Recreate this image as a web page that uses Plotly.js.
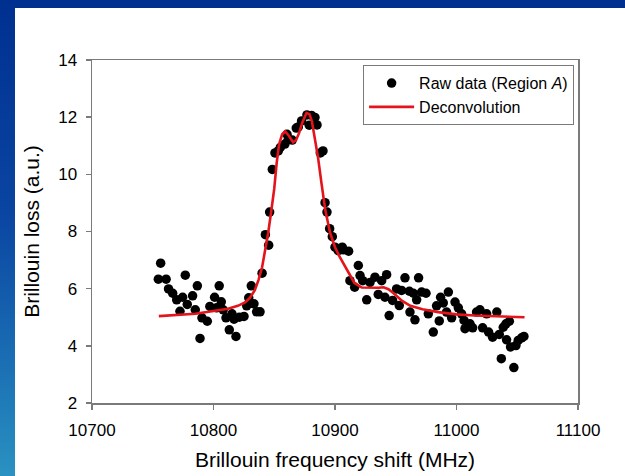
<!DOCTYPE html>
<html>
<head>
<meta charset="utf-8">
<script src="https://cdn.plot.ly/plotly-3.0.1.min.js"></script>
<style>
  html, body { margin: 0; padding: 0; width: 625px; height: 476px; overflow: hidden; background: #00308f; }
  #strip { position: absolute; left: 0; top: 0; width: 15px; height: 476px;
           background: linear-gradient(to bottom, #00308f 0%, #0a45a2 45%, #1d74b6 80%, #2a92c2 100%); }
  #chart { position: absolute; left: 15px; top: 8px; width: 610px; height: 468px; background: #fff; }
</style>
</head>
<body>
<div id="strip"></div>
<div id="chart"></div>
<script>
// Raw data (Region A): Brillouin frequency shift (MHz) and loss (a.u.)
const rawFreq = [
  10754.6, 10756.5, 10761.0, 10763.0, 10766.4, 10769.7, 10772.4, 10774.6, 10776.8, 10778.4,
  10782.8, 10785.0, 10786.7, 10788.9, 10790.5, 10794.9, 10797.0, 10800.9, 10802.6, 10804.7,
  10806.4, 10808.0, 10810.3, 10813.0, 10815.2, 10816.9, 10818.5, 10821.2, 10825.1, 10827.3,
  10829.0, 10831.1, 10833.3, 10835.5, 10838.3, 10840.0, 10842.7, 10845.4, 10846.2, 10848.4,
  10850.6, 10853.3, 10855.0, 10858.8, 10860.5, 10861.6, 10864.8, 10868.1, 10869.8, 10872.5,
  10876.9, 10878.8, 10880.7, 10883.5, 10885.2, 10887.9, 10890.1, 10891.8, 10893.4, 10895.6,
  10897.8, 10900.0, 10902.7, 10903.8, 10906.0, 10906.8, 10911.2, 10912.3, 10916.2, 10919.2,
  10920.6, 10922.8, 10926.1, 10928.8, 10932.9, 10935.6, 10938.4, 10941.1, 10942.5, 10944.6,
  10947.4, 10950.7, 10952.9, 10954.8, 10957.6, 10961.2, 10961.7, 10964.5, 10965.8, 10967.2,
  10968.8, 10971.3, 10974.9, 10976.8, 10980.9, 10983.6, 10985.8, 10986.9, 10989.1, 10991.8,
  10993.3, 10996.0, 10998.8, 11001.5, 11004.2, 11006.2, 11007.0, 11011.1, 11013.3, 11016.5,
  11019.3, 11021.5, 11024.8, 11026.4, 11029.7, 11033.2, 11035.2, 11036.9, 11038.5, 11040.7,
  11041.2, 11043.5, 11044.5, 11047.2, 11048.9, 11050.8, 11053.6, 11055.5
];
const rawLoss = [
  6.33, 6.89, 6.33, 5.99, 5.84, 5.61, 5.21, 5.70, 6.47, 5.45,
  5.75, 5.26, 6.10, 4.26, 4.98, 4.86, 5.38, 5.70, 5.33, 6.10,
  5.54, 5.26, 4.98, 4.56, 5.12, 4.93, 4.33, 5.00, 5.03, 5.40,
  5.68, 6.10, 5.47, 5.19, 5.19, 6.54, 7.89, 7.52, 8.68, 10.17,
  10.75, 10.82, 10.94, 11.06, 11.40, 11.23, 11.20, 11.62, 11.66, 11.87,
  12.08, 11.72, 12.06, 11.99, 11.73, 10.75, 10.82, 9.01, 8.68, 8.10,
  7.82, 7.45, 7.33, 7.38, 7.45, 7.36, 7.31, 6.28, 6.05, 6.81,
  6.46, 6.28, 5.61, 6.22, 6.40, 5.80, 6.28, 5.70, 6.49, 5.06,
  5.59, 5.99, 5.41, 5.94, 6.38, 5.91, 5.18, 5.84, 4.91, 5.61,
  6.38, 5.88, 5.84, 5.12, 4.48, 5.40, 4.87, 5.70, 5.50, 5.18,
  5.88, 4.98, 5.53, 5.33, 5.12, 4.89, 4.60, 4.77, 4.63, 5.18,
  5.26, 4.63, 5.12, 4.48, 4.30, 5.18, 4.40, 3.55, 4.65, 4.77,
  4.21, 4.86, 3.96, 3.24, 4.01, 4.19, 4.28, 4.33
];
// Deconvolution curve
const fitFreq = [
  10755, 10770, 10785, 10800, 10812, 10820, 10826, 10830, 10834, 10837,
  10840, 10842.5, 10845, 10847.5, 10850, 10852, 10854, 10856.5, 10859, 10862,
  10865.5, 10868, 10870.5, 10873, 10876.5, 10879, 10881, 10883, 10886, 10889,
  10892, 10896, 10900, 10904, 10910, 10916, 10922, 10930, 10936, 10940,
  10944, 10948, 10955, 10962, 10972, 10985, 11000, 11015, 11030, 11056
];
const fitLoss = [
  5.04, 5.07, 5.12, 5.22, 5.30, 5.40, 5.52, 5.68, 5.95, 6.30,
  6.75, 7.35, 7.95, 8.70, 9.50, 10.40, 11.05, 11.40, 11.50, 11.35,
  11.12, 11.20, 11.45, 11.80, 12.15, 12.10, 11.85, 11.35, 10.60, 9.65,
  8.75, 7.95, 7.45, 7.10, 6.65, 6.20, 6.04, 6.02, 6.03, 6.05,
  5.98, 5.85, 5.58, 5.40, 5.28, 5.18, 5.10, 5.06, 5.03, 5.00
];
const xTicks = [10700, 10800, 10900, 11000, 11100];
const yTicks = [2, 4, 6, 8, 10, 12, 14];

const axisColor = '#7a7a7a';
const traces = [
  {
    x: rawFreq, y: rawLoss, type: 'scatter', mode: 'markers',
    name: 'Raw data (Region <i>A</i>)',
    marker: { color: '#000', size: 9.5 }
  },
  {
    x: fitFreq, y: fitLoss, type: 'scatter', mode: 'lines',
    name: 'Deconvolution',
    line: { color: '#e3141b', width: 2.6 }
  }
];
const layout = {
  width: 610, height: 468,
  margin: { l: 77, r: 47, t: 52, b: 73 },
  paper_bgcolor: '#ffffff', plot_bgcolor: '#ffffff',
  font: { family: 'Liberation Sans, Arial, sans-serif', color: '#000' },
  showlegend: true,
  legend: {
    x: 0.992, y: 0.985, xanchor: 'right', yanchor: 'top',
    bgcolor: '#ffffff', bordercolor: axisColor, borderwidth: 1,
    font: { size: 16, color: '#000' },
    itemwidth: 45,
    tracegroupgap: 0
  },
  xaxis: {
    range: [10700, 11100], tickvals: xTicks, ticktext: xTicks.map(String),
    showgrid: false, zeroline: false,
    showline: true, mirror: true, linecolor: axisColor, linewidth: 1.5,
    ticks: 'outside', ticklen: 5, tickcolor: axisColor, tickwidth: 1.5,
    ticklabelstandoff: 6,
    tickfont: { size: 17 },
    title: { text: 'Brillouin frequency shift (MHz)', font: { size: 21 }, standoff: 13 }
  },
  yaxis: {
    range: [2, 14], tickvals: yTicks, ticktext: yTicks.map(String),
    showgrid: false, zeroline: false,
    showline: true, mirror: true, linecolor: axisColor, linewidth: 1.5,
    ticks: 'outside', ticklen: 5, tickcolor: axisColor, tickwidth: 1.5,
    ticklabelstandoff: 5,
    tickfont: { size: 17 },
    title: { text: 'Brillouin loss (a.u.)', font: { size: 21 }, standoff: 13 }
  }
};
Plotly.newPlot('chart', traces, layout, { displayModeBar: false, staticPlot: true });
</script>
</body>
</html>
